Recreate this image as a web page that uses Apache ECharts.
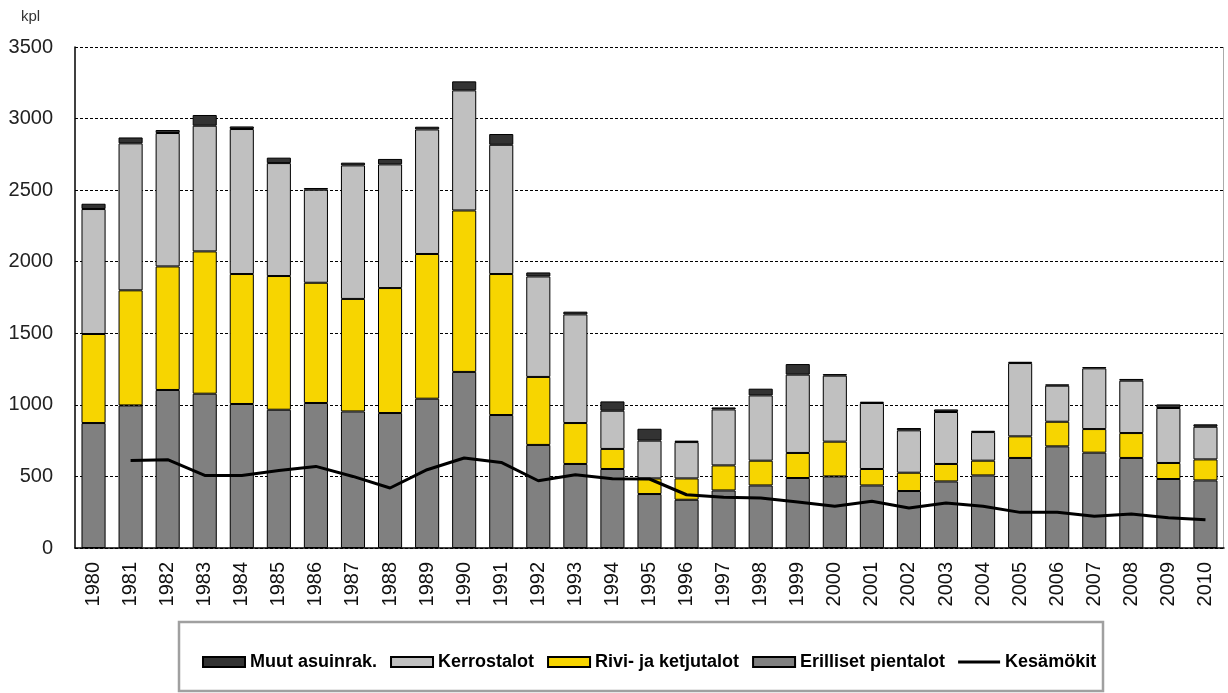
<!DOCTYPE html>
<html><head><meta charset="utf-8">
<script src="https://cdn.jsdelivr.net/npm/echarts@6/dist/echarts.min.js"></script>
<style>html,body{margin:0;padding:0;background:#fff}#c{width:1228px;height:693px}</style>
</head><body><div id="c"></div>
<script>
const years = ['1980','1981','1982','1983','1984','1985','1986','1987','1988','1989','1990','1991','1992','1993','1994','1995','1996','1997','1998','1999','2000','2001','2002','2003','2004','2005','2006','2007','2008','2009','2010'];
const erilliset = [873,996,1104,1078,1006,966,1013,954,943,1043,1230,929,720,587,552,377,337,402,437,489,500,437,398,465,507,629,710,666,629,482,472];
const rivi = [622,804,863,994,908,934,840,786,873,1011,1128,985,475,286,140,109,149,175,173,175,243,115,128,122,103,151,172,165,174,112,147];
const kerros = [873,1027,932,878,1013,789,650,933,864,870,839,903,702,759,267,264,254,391,456,547,461,461,296,363,200,512,252,424,366,384,228];
const muut = [37,41,21,75,18,38,12,19,38,19,63,75,28,19,65,83,10,14,47,74,11,9,16,18,9,9,9,9,12,25,17];
const kesamokit = [null,612,617,507,507,542,570,500,419,547,629,598,470,512,484,482,372,354,349,321,291,326,279,314,291,249,249,221,238,212,198];
const yTicks = [0,500,1000,1500,2000,2500,3000,3500];

const chart = echarts.init(document.getElementById('c'));
const barBase = {type:'bar', stack:'a', barWidth:'65%'};
chart.setOption({
  animation:false,
  textStyle:{fontFamily:'Liberation Sans, Arial, sans-serif'},
  graphic:[
    {type:'text', left:21, top:9, style:{text:'kpl', fontSize:15, fill:'#333', fontFamily:'Liberation Sans'}},
    {type:'rect', shape:{x:179, y:622, width:924, height:69}, style:{fill:'none', stroke:'#a0a0a0', lineWidth:2.5}},
    {type:'line', shape:{x1:1223.5, y1:47, x2:1223.5, y2:548}, style:{stroke:'#aaa', lineWidth:1}}
  ],
  grid:{left:75, right:4, top:47, bottom:145},
  legend:{
    top:648, left:197,
    icon:'rect',
    itemWidth:42, itemHeight:10, itemGap:13,
    textStyle:{fontSize:18, fontWeight:'bold', color:'#000', fontFamily:'Liberation Sans, Arial'},
    data:[
      'Muut asuinrak.','Kerrostalot','Rivi- ja ketjutalot','Erilliset pientalot',
      {name:'Kesämökit', icon:'path://M0,0 L100,0 L100,7 L0,7 Z', itemStyle:{color:'#000', borderWidth:0}}
    ]
  },
  xAxis:{
    type:'category', data:years,
    axisLine:{lineStyle:{color:'#000', width:1.5}},
    axisTick:{show:false},
    axisLabel:{rotate:90, fontSize:20, color:'#111', margin:14, interval:0}
  },
  yAxis:{
    type:'value', min:0, max:3500, interval:500,
    axisLine:{show:true, lineStyle:{color:'#000', width:1.5}},
    axisTick:{show:false},
    axisLabel:{fontSize:20, color:'#222', margin:22, formatter:function(v){return String(v);}},
    splitLine:{lineStyle:{color:'#000', type:[3,2], width:1}}
  },
  series:[
    Object.assign({}, barBase, {name:'Erilliset pientalot', data:erilliset, itemStyle:{color:'#808080', borderColor:'#000', borderWidth:1}}),
    Object.assign({}, barBase, {name:'Rivi- ja ketjutalot', data:rivi, itemStyle:{color:'#f7d500', borderColor:'#000', borderWidth:1}}),
    Object.assign({}, barBase, {name:'Kerrostalot', data:kerros, itemStyle:{color:'#c0c0c0', borderColor:'#000', borderWidth:1}}),
    Object.assign({}, barBase, {name:'Muut asuinrak.', data:muut, itemStyle:{color:'#333333', borderColor:'#000', borderWidth:1}}),
    {name:'Kesämökit', type:'line', data:kesamokit, symbol:'none', lineStyle:{color:'#000', width:3}, itemStyle:{color:'#000'}, z:5}
  ]
});
</script></body></html>
